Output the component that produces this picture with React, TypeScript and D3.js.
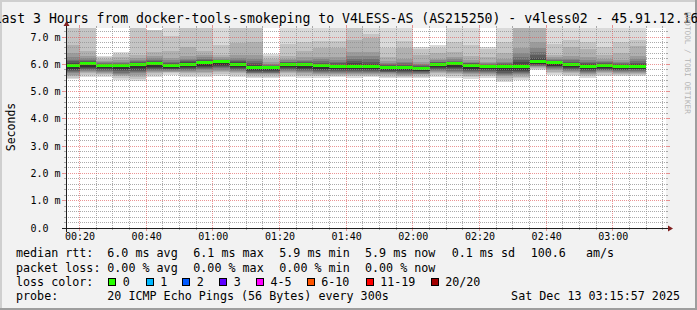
import React from 'react';
import * as d3 from 'd3';

const W = 697;
const H = 310;
const FONT = '"DejaVu Sans Mono", monospace';

// ---- data (ms) per 5-minute step, starting 00:15 ----
const medianRtt = [5.95, 6.02, 5.96, 5.95, 6.0, 6.02, 5.95, 6.0, 6.07, 6.1, 6.0, 5.87, 5.87, 6.0, 6.0, 5.95, 5.91, 5.93, 5.91, 5.89, 5.87, 5.86, 6.0, 6.02, 5.97, 5.92, 5.92, 5.93, 6.09, 6.06, 5.99, 5.92, 5.96, 5.91, 5.93];
const smokeTop = [7.6, 7.6, 6.3, 6.45, 7.6, 7.24, 7.6, 7.6, 7.6, 7.6, 7.6, 7.6, 6.38, 7.6, 7.6, 7.6, 7.6, 7.6, 7.6, 7.6, 7.6, 6.64, 6.7, 7.6, 7.6, 6.64, 7.6, 7.6, 7.6, 7.6, 7.6, 7.6, 7.6, 7.6, 7.6];
const smokeHi2 = [7.6, 7.6, 6.25, 6.38, 7.6, 7.24, 7.05, 7.6, 7.6, 6.7, 7.6, 7.6, 6.32, 6.75, 6.8, 6.85, 6.85, 7.6, 7.1, 6.6, 6.85, 6.55, 6.6, 6.8, 6.7, 6.55, 6.8, 7.6, 7.6, 6.75, 6.9, 6.8, 6.65, 6.8, 6.9];
const smokeMid = [6.7, 6.5, 6.18, 6.25, 6.35, 6.45, 6.5, 6.62, 6.5, 6.35, 6.77, 6.83, 6.18, 6.3, 6.5, 6.6, 6.6, 6.88, 6.95, 6.25, 6.6, 6.35, 6.4, 6.45, 6.3, 6.25, 6.4, 7.6, 7.6, 6.35, 6.63, 6.55, 6.35, 6.4, 6.68];
const smokeInner = [6.4, 6.3, 6.12, 6.15, 6.22, 6.3, 6.22, 6.3, 6.35, 6.25, 6.35, 6.35, 6.08, 6.2, 6.25, 6.28, 6.25, 6.45, 6.45, 6.12, 6.2, 6.1, 6.2, 6.25, 6.15, 6.1, 6.18, 6.6, 6.8, 6.25, 6.3, 6.25, 6.18, 6.15, 6.3];
const smokeLow = [5.45, 5.55, 5.55, 5.42, 5.4, 5.55, 5.62, 5.55, 5.55, 5.58, 5.55, 5.5, 5.5, 5.55, 5.5, 5.5, 5.52, 5.5, 5.52, 5.5, 5.48, 5.5, 5.55, 5.5, 5.45, 5.5, 5.36, 5.42, 5.8, 5.62, 5.57, 5.5, 5.57, 5.57, 5.57];

const xTickLabels = ['00:20', '00:40', '01:00', '01:20', '01:40', '02:00', '02:20', '02:40', '03:00'];
const yTickLabels = ['0.0', '1.0 m', '2.0 m', '3.0 m', '4.0 m', '5.0 m', '6.0 m', '7.0 m'];

const title = 'Last 3 Hours from docker-tools-smokeping to V4LESS-AS (AS215250) - v4less02 - 45.91.12.16';
const legendRtt = [['median rtt:', 16], ['6.0 ms avg', 107.3], ['6.1 ms max', 193.3], ['5.9 ms min', 279.3], ['5.9 ms now', 365], ['0.1 ms sd', 451.7], ['100.6', 530.7], ['am/s', 586]] as [string, number][];
const legendLoss = [['packet loss:', 16], ['0.00 % avg', 107.3], ['0.00 % max', 193.3], ['0.00 % min', 279.3], ['0.00 % now', 365]] as [string, number][];
const lossLabels = ['0', '1', '2', '3', '4-5', '6-10', '11-19', '20/20'];
const lossColors = ['#26ff00', '#00b8ff', '#0059ff', '#5e00ff', '#ff00ff', '#ff5500', '#ff0000', '#a10000'];
const lossBoxX = [108.3, 145.7, 182.3, 219.3, 256, 306.7, 365.7, 430.7];
const probeText = '20 ICMP Echo Pings (56 Bytes) every 300s';
const dateText = 'Sat Dec 13 03:15:57 2025';

// ---- geometry ----
const X0 = 66, X1 = 666, Y0 = 228, Y1 = 28;
const startSec = 15 * 60 + 57;
const endSec = startSec + 3 * 3600;
const firstBar = 15 * 60;
const step = 300;

const bandColors = ['#dadada', '#c5c5c5', '#b0b0b0', '#9b9b9b', '#868686', '#717171', '#5c5c5c', '#474747', '#323232'];
const lowFrac = [1, 0.87, 0.75, 0.65, 0.56, 0.48, 0.4, 0.32, 0.25];
const innerFrac = [0.7, 0.5, 0.35, 0.22];

export default function App() {
  const x = d3.scaleLinear().domain([startSec, endSec]).range([X0, X1]);
  const y = d3.scaleLinear().domain([0, 7.33]).range([Y0, Y1]);

  const bars = medianRtt.map((med, i) => {
    const t0 = firstBar + i * step;
    const xa = Math.max(X0, x(t0));
    const xb = Math.min(X1, x(t0 + step));
    const lo = smokeLow[i];
    const inner = smokeInner[i];
    const uppers = [smokeTop[i], smokeHi2[i], smokeMid[i], inner, ...innerFrac.map(f => med + (inner - med) * f), med + 0.04];
    const lowers = lowFrac.map(f => med - (med - lo) * f);
    return { i, xa, xb, med, uppers, lowers };
  });

  const majorTimes = xTickLabels.map((_, i) => 1200 + i * 1200);
  const minorTimes = d3.range(1200, endSec, 300).filter(t => t % 1200 !== 0 && t > startSec);
  const minorY = d3.range(1, 37).map(k => k * 0.2).filter(v => Math.abs(v - Math.round(v)) > 0.01 && v <= 7.33);
  const majorY = yTickLabels.map((_, i) => i).filter(v => v > 0);

  const px = (v: number) => Math.floor(v) + 0.5;

  return (
    <svg width={W} height={H} style={{ position: 'absolute', left: 0, top: 0 }} fontFamily={FONT}>
      <defs>
        <clipPath id="plot"><rect x={X0} y={Y1} width={X1 - X0} height={Y0 - Y1} /></clipPath>
      </defs>
      <rect x={0} y={0} width={W} height={H} fill="#f2f2f2" />
      {/* frame shades */}
      <rect x={0} y={0} width={W} height={2} fill="#cfcfcf" />
      <rect x={0} y={0} width={2} height={H} fill="#cfcfcf" />
      <rect x={0} y={H - 2} width={W} height={2} fill="#9e9e9e" />
      <rect x={W - 2} y={0} width={2} height={H} fill="#9e9e9e" />
      <rect x={X0} y={Y1} width={X1 - X0} height={Y0 - Y1} fill="#ffffff" />

      <g clipPath="url(#plot)" shapeRendering="crispEdges">
        {bars.map(b => (
          <g key={b.i}>
            {bandColors.map((c, j) => (
              <rect key={j} x={b.xa} width={b.xb - b.xa} y={y(b.uppers[j])} height={y(b.lowers[j]) - y(b.uppers[j])} fill={c} />
            ))}
            <rect x={b.xa} width={b.xb - b.xa} y={Math.round(y(b.med) - 1.5)} height={3} fill={lossColors[0]} />
          </g>
        ))}
      </g>

      {/* grid */}
      <g fill="none" strokeWidth={1}>
        {minorY.map(v => (
          <g key={'hy' + v} stroke="rgba(143,143,143,0.75)">
            <line x1={X0 - 2} x2={X0} y1={px(y(v))} y2={px(y(v))} />
            <line x1={X1} x2={X1 + 2} y1={px(y(v))} y2={px(y(v))} />
            <line x1={X0} x2={X1} y1={px(y(v))} y2={px(y(v))} strokeDasharray="1,1" />
          </g>
        ))}
        {minorTimes.map(t => (
          <g key={'vx' + t} stroke="rgba(143,143,143,0.75)">
            <line x1={px(x(t))} x2={px(x(t))} y1={Y0} y2={Y0 + 2} />
            <line x1={px(x(t))} x2={px(x(t))} y1={Y1 - 2} y2={Y1} />
            <line x1={px(x(t))} x2={px(x(t))} y1={Y0} y2={Y1} strokeDasharray="1,1" />
          </g>
        ))}
        {majorY.map(v => (
          <g key={'My' + v} stroke="rgba(222,79,79,0.6)">
            <line x1={X0 - 4} x2={X0} y1={px(y(v))} y2={px(y(v))} />
            <line x1={X1} x2={X1 + 4} y1={px(y(v))} y2={px(y(v))} />
            <line x1={X0} x2={X1} y1={px(y(v))} y2={px(y(v))} strokeDasharray="1,1" />
          </g>
        ))}
        {majorTimes.map(t => (
          <g key={'Mx' + t} stroke="rgba(222,79,79,0.6)">
            <line x1={px(x(t))} x2={px(x(t))} y1={Y0} y2={Y0 + 3} />
            <line x1={px(x(t))} x2={px(x(t))} y1={Y1 - 3} y2={Y1} />
            <line x1={px(x(t))} x2={px(x(t))} y1={Y0} y2={Y1} strokeDasharray="1,1" />
          </g>
        ))}
      </g>

      {/* axes */}
      <line x1={X0 - 4} x2={X1 + 4} y1={Y0 + 0.5} y2={Y0 + 0.5} stroke="#1f1f1f" strokeWidth={1} />
      <line x1={X0 + 0.5} x2={X0 + 0.5} y1={Y0 + 4} y2={Y1 - 4} stroke="#1f1f1f" strokeWidth={1} />
      <polygon points={`${X1 + 2},${Y0 - 2.5} ${X1 + 2},${Y0 + 3.5} ${X1 + 7},${Y0 + 0.5}`} fill="#801f1f" />
      <polygon points={`${X0 - 2.5},${Y1 - 2} ${X0 + 3.5},${Y1 - 2} ${X0 + 0.5},${Y1 - 7}`} fill="#801f1f" />

      {/* axis labels */}
      <g fontSize={10} fill="#000">
        {yTickLabels.map((l, i) => (
          <text key={l} x={30.5} y={y(i) + 3.6}>{l}</text>
        ))}
        {xTickLabels.map((l, i) => (
          <text key={l} x={x(majorTimes[i]) + 0.5} y={240} textAnchor="middle">{l}</text>
        ))}
      </g>
      <text transform="translate(15,127) rotate(-90)" fontSize={11.5} textAnchor="middle" fill="#000">Seconds</text>

      {/* title */}
      <text x={-6.5} y={23.3} fontSize={13.2} textLength={705} lengthAdjust="spacing" fill="#000" xmlSpace="preserve">{title}</text>

      {/* watermark */}
      <text transform="translate(685,12) rotate(90)" fontSize={7.7} fill="#b4b4b4">RRDTOOL / TOBI OETIKER</text>

      {/* legend */}
      <g fontSize={11.7} fill="#000" style={{ whiteSpace: 'pre' }}>
        {legendRtt.map(([t, lx]) => <text key={t} x={lx} y={257}>{t}</text>)}
        {legendLoss.map(([t, lx]) => <text key={t} x={lx} y={271.5}>{t}</text>)}
        <text x={16} y={285.8}>loss color:</text>
        {lossLabels.map((l, i) => (
          <g key={l}>
            <rect x={lossBoxX[i] + 0.5} y={278.5} width={7} height={7} fill={lossColors[i]} stroke="#000" strokeWidth={1} shapeRendering="crispEdges" />
            <text x={lossBoxX[i] + 14.5} y={285.8}>{l}</text>
          </g>
        ))}
        <text x={16} y={300}>probe:</text>
        <text x={107.3} y={300}>{probeText}</text>
        <text x={680} y={300} textAnchor="end">{dateText}</text>
      </g>
    </svg>
  );
}
